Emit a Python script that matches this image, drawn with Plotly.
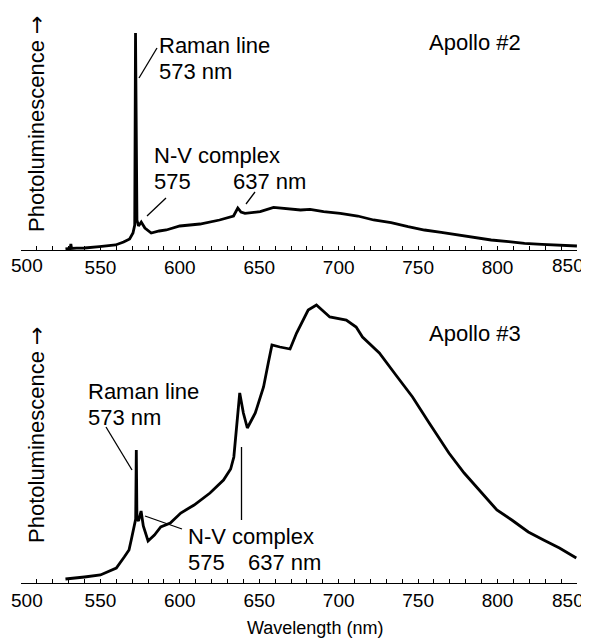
import plotly.graph_objects as go

# ---- data (arbitrary intensity units) ----
top_nm = [528, 531, 531.4, 531.8, 535, 540, 549.4, 559.5, 564.6, 568.4, 570.5, 571.6,
          572.1, 572.5, 573.0, 574.0, 575.7, 578, 582, 587, 591.5, 600, 612.7, 625,
          633.8, 636.5, 638.5, 641, 650.6, 659, 669.6, 676, 682, 690.5, 701, 712, 722,
          733, 743.7, 754, 764.6, 775, 785.6, 796, 807, 817, 828, 838.6, 850]
top_val = [1.0, 1.5, 6.0, 1.5, 1.8, 2.0, 3.3, 5.0, 8.0, 11.0, 17, 25,
           217, 70, 30, 24, 28, 22, 17, 19, 20, 24, 26, 30,
           34, 42, 38, 36.7, 38.3, 42.7, 41, 40, 40.7, 38.3, 36.7, 34, 30,
           27.3, 23.3, 20, 17.7, 15, 12.7, 10, 8.3, 6.7, 5.7, 5, 4]

bot_nm = [528, 535, 540, 550, 560, 565, 568, 569.4, 571.5, 572.2, 572.6, 573.0, 574.0,
          575.6, 577, 580, 584, 588, 594, 600.6, 609, 619, 627.5, 632, 634, 636, 637.7,
          640, 642.5, 647.5, 652.7, 655.8, 658, 663, 669.4, 673.5, 676.7, 680.8, 686,
          694.4, 704.8, 711, 715, 725.6, 736, 746.5, 757, 769.4, 779, 790, 799.6, 809,
          819.4, 829, 839, 849.6]
bot_val = [2, 3, 4, 6, 13, 24, 31, 41, 58, 62, 131, 62, 60,
           70, 55, 40, 46, 54, 58, 68, 76, 88, 101, 112, 124, 161, 188,
           168, 153, 168, 194, 219, 236, 234, 232, 248, 258, 271, 276,
           264, 261, 254, 244, 228, 206, 184, 158, 128, 108, 88, 71, 61,
           49, 41, 33, 23]

tick_vals = [500, 550, 600, 650, 700, 750, 800, 850]
tick_text = ["500", "550", "600", "650", "700", "750", "800", "850"]
y_title = 'Photoluminescence <span style="font-family:DejaVu Sans">→</span>'
panel_labels = ["Apollo #2", "Apollo #3"]
x_title = "Wavelength (nm)"

# ---- layout geometry (screen pixels; page body has an 8px margin) ----
OFF = 8
W, H = 589 - OFF, 639 - OFF
X500, X850 = 21, 577          # screen x of the axis ends
ML = X500 - OFF
MR = W - (X850 - OFF)
PW = W - ML - MR
FONT = "Liberation Sans, Arial, Helvetica, sans-serif"


def px(x):
    return (x - OFF - ML) / PW


def py(y):
    return 1 - (y - OFF) / H


top_dom = [py(250), py(28)]
bot_dom = [py(583), py(300)]

fig = go.Figure()
fig.add_trace(go.Scatter(x=top_nm, y=top_val, mode="lines",
                         line=dict(color="black", width=2.8), xaxis="x", yaxis="y",
                         showlegend=False, hoverinfo="skip"))
fig.add_trace(go.Scatter(x=bot_nm, y=bot_val, mode="lines",
                         line=dict(color="black", width=2.8), xaxis="x2", yaxis="y2",
                         showlegend=False, hoverinfo="skip"))

# end labels are drawn as annotations so they stay on the canvas
shown_text = [""] + tick_text[1:-1] + [""]

xaxis_common = dict(range=[500, 850.05], showline=True, linecolor="black", linewidth=1,
                    ticks="inside", ticklen=4, tickcolor="black", tickwidth=1,
                    tickvals=tick_vals, ticktext=shown_text, showgrid=False, zeroline=False,
                    tickfont=dict(family=FONT, size=19, color="black"),
                    minor=dict(ticks="inside", ticklen=4, dtick=10, tick0=500,
                               tickcolor="black", tickwidth=1, showgrid=False),
                    domain=[0, 1], fixedrange=True)
yaxis_common = dict(showline=False, showticklabels=False, ticks="", showgrid=False,
                    zeroline=False, fixedrange=True)

fig.update_layout(
    width=W, height=H,
    margin=dict(l=ML, r=MR, t=0, b=0),
    paper_bgcolor="white", plot_bgcolor="white",
    xaxis=dict(**xaxis_common, anchor="y"),
    yaxis=dict(**yaxis_common, domain=top_dom, range=[0, 222], anchor="x"),
    xaxis2=dict(**xaxis_common, anchor="y2"),
    yaxis2=dict(**yaxis_common, domain=bot_dom, range=[-2, 281], anchor="x2"),
    font=dict(family=FONT, color="black"),
)

ann = []


def text(x, y, s, size=22, xanchor="left", angle=0):
    ann.append(dict(x=px(x), y=py(y), xref="paper", yref="paper", text=s,
                    showarrow=False, xanchor=xanchor, yanchor="middle",
                    textangle=angle, font=dict(family=FONT, size=size, color="black")))


# top panel texts
text(157, 45, "Raman line")
text(157, 71, "573 nm")
text(152, 155, "N-V complex")
text(152, 182, "575")
text(231, 182, "637 nm")
text(427, 43, panel_labels[0])
text(36, 124, y_title, angle=-90, xanchor="center")
text(27, 266, tick_text[0], size=19, xanchor="center")
text(568, 266, tick_text[-1], size=19, xanchor="center")
# bottom panel texts
text(86, 391, "Raman line")
text(86, 417, "573 nm")
text(186, 536, "N-V complex")
text(186, 562, "575")
text(246, 562, "637 nm")
text(427, 333, panel_labels[1])
text(36, 435, y_title, angle=-90, xanchor="center")
text(27, 600, tick_text[0], size=19, xanchor="center")
text(568, 600, tick_text[-1], size=19, xanchor="center")
text(315, 628, x_title, size=18, xanchor="center")

fig.update_layout(annotations=ann)

shapes = []


def seg(x0, y0, x1, y1):
    shapes.append(dict(type="line", xref="paper", yref="paper",
                       x0=px(x0), y0=py(y0), x1=px(x1), y1=py(y1),
                       line=dict(color="black", width=1.3)))


seg(139, 78, 157, 48)
seg(147, 216, 166, 198)
seg(246, 204, 255, 192)
seg(106, 427, 132, 470)
seg(145, 516, 182, 529)
seg(241.5, 447, 241.5, 520)
fig.update_layout(shapes=shapes)

fig.write_html("out.html")
